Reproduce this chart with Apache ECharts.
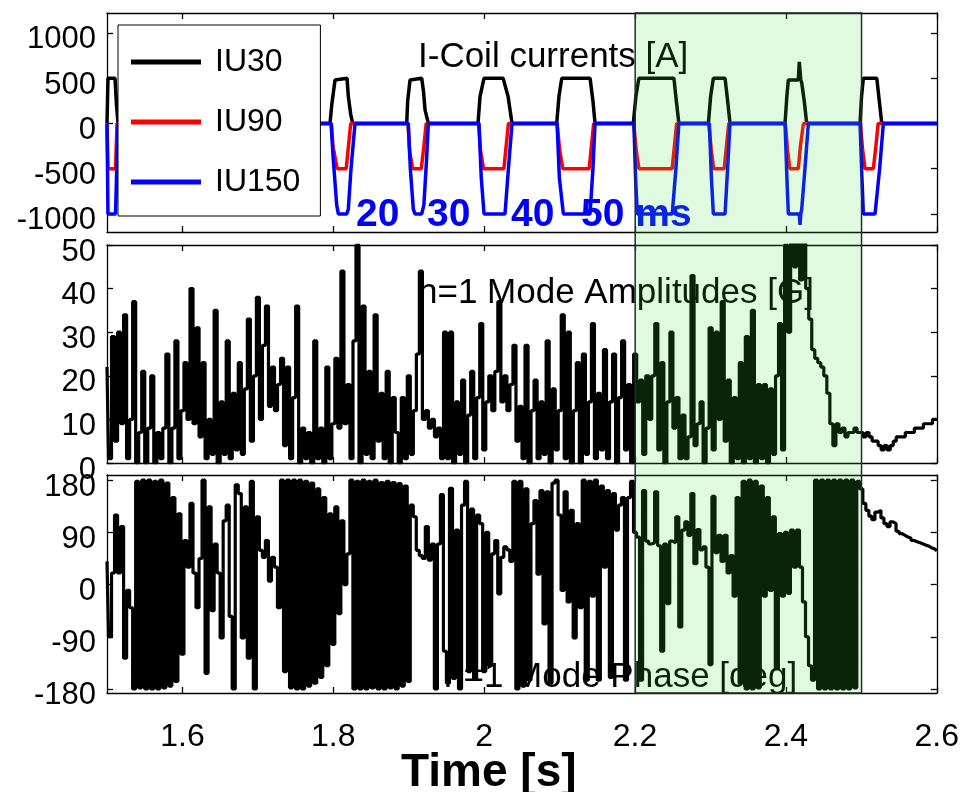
<!DOCTYPE html>
<html><head><meta charset="utf-8">
<script src="https://cdn.jsdelivr.net/npm/echarts@6.0.0/dist/echarts.min.js"></script>
<style>html,body{margin:0;padding:0;background:#fff}#c{width:962px;height:792px}</style>
</head><body><div id="c"></div>
<script>
// ---------- data ----------
const xTicks = [1.6, 1.8, 2.0, 2.2, 2.4, 2.6];
const currentTicks = [-1000, -500, 0, 500, 1000];
const ampTicks = [0, 10, 20, 30, 40, 50];
const phaseTicks = [-180, -90, 0, 90, 180];
const timeRange = [1.5, 2.6];
const currentRange = [-1200, 1220];
const ampRange = [0, 50];
const phaseRange = [-187, 189];
const shadeRange = [2.2, 2.5];
const seriesNames = ['IU30', 'IU90', 'IU150'];
const pulseLabels = ['20', '30', '40', '50 ms'];

const iu30 = [
 [1.5,0],[1.5013,500],[1.5106,500],[1.5126,200],[1.5146,0],
 [1.7956,0],[1.7978,200],[1.8022,480],[1.8048,500],[1.8181,500],[1.8198,300],[1.8230,100],[1.8256,0],
 [1.8972,0],[1.8985,250],[1.9016,480],[1.9038,500],[1.9171,500],[1.9195,350],[1.9215,150],[1.9259,0],
 [1.9917,0],[1.9944,300],[1.9997,500],[2.0249,500],[2.0315,300],[2.0368,0],
 [2.0960,0],[2.0990,300],[2.1027,500],[2.1402,500],[2.1440,250],[2.1468,0],
 [2.1975,0],[2.2010,300],[2.2049,500],[2.2513,500],[2.2545,250],[2.2579,0],
 [2.2970,0],[2.3000,300],[2.3036,500],[2.3191,500],[2.3225,250],[2.3257,0],
 [2.3986,0],[2.4010,300],[2.4030,480],[2.4162,480],[2.4175,680],[2.4195,480],[2.4207,450],[2.4240,250],[2.4273,0],
 [2.4980,0],[2.5000,300],[2.5024,500],[2.5202,500],[2.5235,250],[2.5268,0],
 [2.6,0]
];
const iu90 = [
 [1.5,0],[1.5013,-500],[1.5113,-500],[1.5133,0],
 [1.7975,0],[1.7995,-250],[1.8050,-500],[1.8170,-500],[1.8200,-250],[1.8230,0],
 [1.8990,0],[1.9010,-300],[1.9050,-500],[1.9165,-500],[1.9200,-250],[1.9230,0],
 [1.9925,0],[1.9950,-300],[1.9990,-500],[2.0260,-500],[2.0290,-250],[2.0320,0],
 [2.0965,0],[2.1000,-300],[2.1040,-500],[2.1390,-500],[2.1420,-250],[2.1450,0],
 [2.1980,0],[2.2015,-300],[2.2050,-500],[2.2490,-500],[2.2520,-250],[2.2550,0],
 [2.2975,0],[2.3010,-300],[2.3040,-500],[2.3180,-500],[2.3210,-250],[2.3240,0],
 [2.3990,0],[2.4020,-300],[2.4050,-500],[2.4162,-500],[2.4190,-250],[2.4230,0],
 [2.4985,0],[2.5015,-300],[2.5047,-500],[2.5157,-500],[2.5190,-250],[2.5220,0],
 [2.6,0]
];
const iu150 = [
 [1.5,0],[1.5013,-1000],[1.5113,-1000],[1.5146,0],
 [1.7969,0],[1.7999,-400],[1.8044,-900],[1.8066,-1000],[1.8177,-1000],[1.8198,-950],[1.8234,-500],[1.8287,0],
 [1.8993,0],[1.9020,-500],[1.9060,-950],[1.9082,-1000],[1.9171,-1000],[1.9200,-900],[1.9235,-400],[1.9259,0],
 [1.9930,0],[1.9960,-600],[1.9997,-1000],[2.0275,-1000],[2.0320,-500],[2.0368,0],
 [2.0965,0],[2.0995,-600],[2.1048,-1000],[2.1402,-1000],[2.1440,-500],[2.1468,0],
 [2.1983,0],[2.2005,-600],[2.2028,-1000],[2.2491,-1000],[2.2540,-500],[2.2579,0],
 [2.2983,0],[2.3010,-600],[2.3036,-1000],[2.3191,-1000],[2.3225,-500],[2.3257,0],
 [2.3986,0],[2.4015,-700],[2.4030,-1000],[2.4175,-1000],[2.4185,-1120],[2.4195,-1000],[2.4207,-950],[2.4250,-500],[2.4295,0],
 [2.4980,0],[2.5005,-600],[2.5024,-1000],[2.5179,-1000],[2.5240,-500],[2.5289,0],
 [2.6,0]
];

// n=1 mode signals, sampled every 4 ms from 1.5 s
const sampleStart = 1.5;
const sampleStep = 0.004;
const ampValues = [
 22,1,29,5,30,9,34,1,10,37,
 0,7,21,0,8,20,0,7,1,8,
 25,0,8,28,1,12,23,10,40,9,
 31,6,23,1,10,2,35,0,14,2,
 28,1,16,3,23,2,17,33,5,20,
 38,10,27,36,13,22,12,18,24,4,
 22,1,15,36,0,8,1,7,0,28,
 1,8,0,22,1,9,24,8,44,9,
 18,1,28,50,0,36,2,21,1,34,
 5,16,1,21,0,15,7,0,15,1,
 20,2,12,25,44,10,12,8,10,6,
 8,1,30,1,30,0,14,2,19,0,
 11,21,1,15,32,3,14,20,12,21,
 37,14,20,12,18,27,5,13,1,27,
 0,12,19,1,14,2,28,0,17,3,
 12,34,1,30,0,12,23,0,25,2,
 14,32,1,16,3,26,1,14,25,0,
 15,28,3,18,0,25,14,19,2,20,
 10,20,32,3,23,0,14,30,8,15,
 1,11,1,6,43,4,9,14,0,8,
 31,3,30,10,37,5,19,0,15,1,
 23,0,29,1,35,0,18,1,18,0,
 17,2,20,32,3,50,30,55,45,55,
 42,55,40,33,26,24,23,22,20,16,
 9,4,9,7,8,6,7,7,8,7,
 7,6,7,6,5,5,4,3,4,3,
 4,5,6,6,6,7,7,7,8,8,
 8,9,9,9,10,10
];
const phaseValues = [
 40,-90,20,120,20,100,-127,-10,-40,-180,
 178,-178,180,-180,180,-180,178,-180,180,-178,
 175,-175,150,-167,122,-120,76,30,140,20,
 -40,45,180,-153,134,-45,70,20,-92,110,
 137,-55,-180,172,157,-92,134,-127,178,-180,
 117,59,47,76,6,47,30,-40,180,-150,
 180,-178,180,-180,180,-180,178,-175,175,-170,
 165,-160,150,-140,122,-103,134,-50,110,0,
 53,180,-180,178,-180,180,-180,178,-178,180,
 -180,176,-180,178,-178,176,-180,174,-175,170,
 -167,137,117,59,50,45,100,42,70,-180,
 70,155,-115,-170,166,-162,94,-180,137,178,
 -150,130,-163,120,105,-150,90,-140,53,76,
 -16,47,65,60,40,178,-180,178,-175,165,
 -165,105,145,18,162,-68,160,-170,175,180,
 120,-10,160,-30,128,-92,105,-40,180,-165,
 178,-20,180,-165,170,30,162,-160,157,94,
 137,150,-165,150,178,90,82,-165,162,75,
 70,72,160,67,-115,70,-33,75,72,117,
 -73,94,108,85,157,36,95,60,65,30,
 -138,152,55,85,40,85,20,50,-20,150,
 -170,178,-180,180,-180,178,-178,170,-20,150,
 -10,117,-145,88,-20,90,-15,94,30,94,
 30,-30,-90,-140,-165,180,-180,180,-180,180,
 -180,180,-180,180,-180,180,-180,180,-178,178,
 165,140,128,118,112,125,128,115,105,100,
 108,105,92,88,85,82,80,76,74,72,
 70,68,66,63,61,58
];

// ---------- build ----------
const FONT = '"Liberation Sans", Arial, Helvetica, sans-serif';
const toSeries = vals => vals.map((v, i) => [+(sampleStart + i * sampleStep).toFixed(4), v]);
const fmtTime = v => String(Math.round(v * 10) / 10);
const fmtPlain = v => String(Math.round(v));

const grids = [
  {left: 107, right: 25, top: 13, height: 219},
  {left: 107, right: 25, top: 245, height: 218},
  {left: 107, right: 25, top: 475, height: 218}
];
const yRanges = [currentRange, ampRange, phaseRange];
const yTicks = [currentTicks, ampTicks, phaseTicks];

const axisLineStyle = {color: '#000', width: 1.3};
const xAxes = [], yAxes = [];
grids.forEach((g, gi) => {
  ['bottom', 'top'].forEach(pos => {
    xAxes.push({
      type: 'value', gridIndex: gi, position: pos, min: timeRange[0], max: timeRange[1],
      axisLine: {show: true, onZero: false, lineStyle: axisLineStyle},
      axisTick: {show: true, inside: true, length: 6, customValues: xTicks, lineStyle: axisLineStyle},
      axisLabel: {show: gi === 2 && pos === 'bottom', customValues: xTicks, formatter: fmtTime,
        fontSize: 32, fontFamily: FONT, color: '#000', margin: 28},
      splitLine: {show: false}
    });
  });
  ['left', 'right'].forEach(pos => {
    yAxes.push({
      type: 'value', gridIndex: gi, position: pos, min: yRanges[gi][0], max: yRanges[gi][1],
      axisLine: {show: true, onZero: false, lineStyle: axisLineStyle},
      axisTick: {show: true, inside: true, length: 6, customValues: yTicks[gi], lineStyle: axisLineStyle},
      axisLabel: {show: pos === 'left', customValues: yTicks[gi], formatter: fmtPlain, fontSize: 31, fontFamily: FONT,
        color: '#000', margin: 11, verticalAlign: 'top', lineHeight: 14},
      splitLine: {show: false}
    });
  });
});

const lineSeries = (name, data, color, xi, yi, width, step) => ({
  name, type: 'line', data, xAxisIndex: xi, yAxisIndex: yi, symbol: 'none', showSymbol: false,
  step: step || false,
  color, itemStyle: {color}, lineStyle: {color, width}, animation: false, z: 2
});

const option = {
  backgroundColor: '#fff',
  animation: false,
  grid: grids,
  xAxis: xAxes,
  yAxis: yAxes,
  legend: {
    data: seriesNames, orient: 'vertical', left: 118, top: 25, icon: 'rect',
    itemWidth: 70, itemHeight: 5, itemGap: 24, padding: [19, 20, 16, 13],
    backgroundColor: '#fff', borderColor: '#000', borderWidth: 1, selectedMode: false,
    textStyle: {fontSize: 32, fontFamily: FONT, color: '#000', lineHeight: 36, padding: [0, 0, 0, 9]},
    z: 10
  },
  series: [
    lineSeries(seriesNames[0], iu30, '#000000', 0, 0, 3.5),
    lineSeries(seriesNames[1], iu90, '#ff0000', 0, 0, 3.5),
    lineSeries(seriesNames[2], iu150, '#0000ff', 0, 0, 3.5),
    lineSeries('amp', toSeries(ampValues), '#000000', 2, 2, 3.2, 'middle'),
    lineSeries('phase', toSeries(phaseValues), '#000000', 4, 4, 3.2, 'middle')
  ],
  graphic: {elements: [
    {id: 't1', type: 'text', left: 418, top: 40, z: 0, style: {text: 'I-Coil currents [A]', font: '35px ' + FONT, fill: '#000'}},
    {id: 't2', type: 'text', left: 418, top: 276, z: 0, style: {text: 'n=1 Mode Amplitudes [G]', font: '35px ' + FONT, fill: '#000'}},
    {id: 't3', type: 'text', left: 444, top: 660, z: 0, style: {text: 'n=1 Mode Phase [deg]', font: '35px ' + FONT, fill: '#000'}},
    {id: 'p1', type: 'text', left: 356, top: 196, z: 50, style: {text: pulseLabels[0], font: 'bold 39px ' + FONT, fill: '#0000ff'}},
    {id: 'p2', type: 'text', left: 427, top: 196, z: 50, style: {text: pulseLabels[1], font: 'bold 39px ' + FONT, fill: '#0000ff'}},
    {id: 'p3', type: 'text', left: 511, top: 196, z: 50, style: {text: pulseLabels[2], font: 'bold 39px ' + FONT, fill: '#0000ff'}},
    {id: 'p4', type: 'text', left: 581, top: 196, z: 50, style: {text: pulseLabels[3], font: 'bold 39px ' + FONT, fill: '#0000ff'}},
    {id: 'xt', type: 'text', left: 401, top: 750, z: 0, style: {text: 'Time [s]', font: 'bold 46px ' + FONT, fill: '#000'}}
  ]}
};

const chart = echarts.init(document.getElementById('c'), null, {renderer: 'canvas'});
chart.setOption(option);

const xL = chart.convertToPixel({xAxisIndex: 0}, shadeRange[0]);
const xR = chart.convertToPixel({xAxisIndex: 0}, shadeRange[1]);
const yT = chart.convertToPixel({yAxisIndex: 0}, currentRange[1]);
const yB = chart.convertToPixel({yAxisIndex: 4}, phaseRange[0]);
chart.setOption({graphic: {elements: [
  {id: 'shade', type: 'rect', z: 100, silent: true,
   shape: {x: xL, y: yT, width: xR - xL, height: yB - yT},
   style: {fill: 'rgba(64,223,64,0.16)', stroke: '#2a2a2a', lineWidth: 1.5}}
]}});
</script></body></html>
